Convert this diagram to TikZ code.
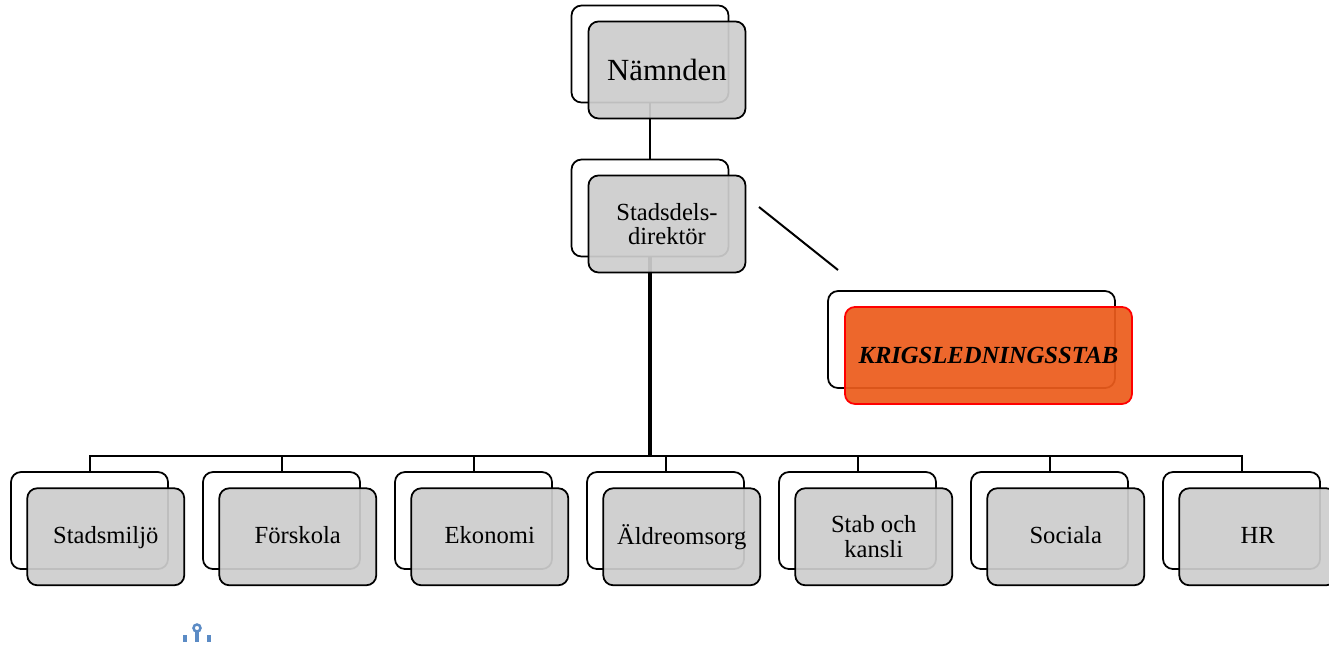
\documentclass[tikz,border=0pt]{standalone}
\usepackage{fontspec}
\setmainfont{Liberation Serif}
\definecolor{boxgrey}{HTML}{CDCDCD}
\definecolor{stabfill}{HTML}{EC5C1C}
\definecolor{ankare}{HTML}{5B8BC5}
\begin{document}
\begin{tikzpicture}[node distance=3.84cm,
        back/.style = {draw, rectangle, rounded corners=0.2cm, fill=white, line width=0.035cm, minimum width=3.14cm, minimum height=1.94cm},
        front/.style = {back, fill=boxgrey, fill opacity=0.93, text opacity=1, node distance=0.46cm, align=center},
        upper/.style = {front, node distance=0.48cm, yshift=0.02cm},
        row/.style = {front, font=\fontsize{14}{14}\selectfont},
        rowone/.style = {row, execute at begin node={\rule[-3.1pt]{0pt}{13.9pt}}},
        line/.style = {line width=0.04cm}]
    \useasboundingbox (0,0) rectangle (26.58,-12.98);
    % top of the chart
    \node[back] (nb) at (13,-1.08) {};
    \node[back] (sb) [below of=nb, node distance=3.08cm] {};
    \node[back, minimum width=5.74cm] (kb) at (19.43,-6.79) {};
    % bottom row
    \node[back] (b1) at (1.79,-10.41) {};
    \node[back] (b2) [right of=b1] {};
    \node[back] (b3) [right of=b2] {};
    \node[back] (b4) [right of=b3] {};
    \node[back] (b5) [right of=b4] {};
    \node[back] (b6) [right of=b5] {};
    \node[back] (b7) [right of=b6] {};
    \coordinate (bus) at (13,-9.12);
    \coordinate (d1) at (15.18,-4.14);
    \coordinate (d2) at (16.76,-5.4);
    \draw[line] (nb) -- (sb);
    \draw[line width=0.09cm] (sb) -- (bus);
    \draw[line] (bus) -| (b1);
    \draw[line] (bus) -| (b7);
    \draw[line] (bus) -| (b2);
    \draw[line] (bus) -| (b3);
    \draw[line] (bus) -| (b4);
    \draw[line] (bus) -| (b5);
    \draw[line] (bus) -| (b6);
    \draw[line] (d1) -- (d2);
    % front boxes
    \node[upper, font=\fontsize{17.5}{17.5}\selectfont] (n) [below right of=nb] {Nämnden};
    \node[upper, font=\fontsize{14}{14}\selectfont] (s) [below right of=sb] {Stadsdels-\\direktör};
    \node[upper, minimum width=5.74cm, fill=stabfill, draw=red, font=\fontsize{14}{14}\selectfont\bfseries\itshape] (k) [below right of=kb] {KRIGSLEDNINGSSTAB};
    \node[rowone] (f1) [below right of=b1] {Stadsmiljö};
    \node[rowone] (f2) [below right of=b2] {Förskola};
    \node[rowone] (f3) [below right of=b3] {Ekonomi};
    \node[rowone] (f4) [below right of=b4] {Äldreomsorg};
    \node[row] (f5) [below right of=b5] {Stab och\\kansli};
    \node[rowone] (f6) [below right of=b6] {Sociala};
    \node[rowone] (f7) [below right of=b7] {HR};
    % anchor mark
    \draw[ankare, line width=0.05cm] (3.94,-12.56) circle (0.07);
    \draw[ankare, line width=0.08cm] (3.94,-12.63) -- (3.94,-12.84);
    \draw[ankare, line width=0.07cm] (3.7,-12.7) -- (3.7,-12.84);
    \draw[ankare, line width=0.07cm] (4.18,-12.7) -- (4.18,-12.84);
\end{tikzpicture}
\end{document}
